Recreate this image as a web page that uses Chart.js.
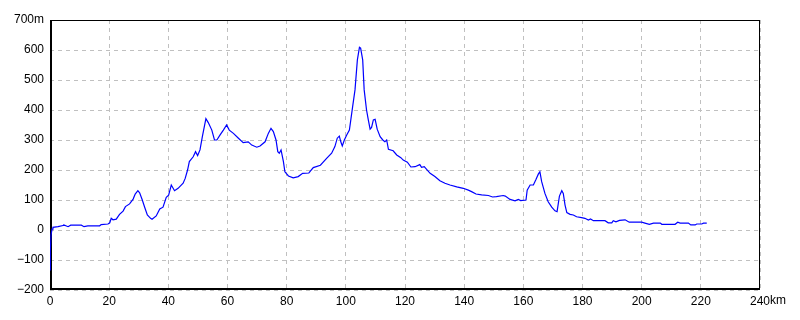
<!DOCTYPE html>
<html>
<head>
<meta charset="utf-8">
<script src="https://cdn.jsdelivr.net/npm/chart.js@4/dist/chart.umd.min.js"></script>
<style>
html,body{margin:0;padding:0;background:#fff;}
canvas{display:block;}
</style>
</head>
<body>
<canvas id="c" width="800" height="320"></canvas>
<script>
// distance along route (km)
const distanceKm = [0,0.1,0.34,0.7,1.0,2.7,4.4,4.7,6.1,7.0,10.6,11.5,12.8,16.8,17.3,19.6,20.2,20.7,21.3,22.4,23.5,24.7,25.5,26.9,28.1,28.8,29.7,30.3,31.2,32.0,32.9,34.0,34.5,35.9,37.1,38.2,39.3,40.1,41.0,42.1,43.3,45.0,45.7,46.5,47.1,48.4,49.2,49.9,50.7,51.5,52.7,53.5,54.7,55.6,56.4,57.5,58.6,59.7,60.6,62.0,63.7,65.3,67.0,68.2,69.9,71.0,72.7,73.8,74.7,75.5,76.4,77.0,77.5,78.1,78.9,79.4,80.6,82.2,83.9,85.4,87.5,89.0,91.4,93.5,95.2,96.3,97.1,97.8,98.3,98.8,99.5,100.3,101.2,101.6,102.3,103.1,103.9,104.6,105.0,105.7,106.2,107.0,107.6,108.2,108.7,109.3,109.9,110.6,111.6,112.5,113.2,113.8,114.4,116.0,117.2,118.6,119.4,120.8,122.0,123.4,125.0,125.6,126.5,128.5,130.1,131.8,133.5,135.2,137.5,139.7,141.4,142.5,144.0,145.9,148.2,149.6,150.9,153.2,153.9,155.5,157.2,158.3,159.1,160.9,161.3,162.3,163.4,164.3,165.1,165.6,166.2,167.3,168.4,169.6,170.7,171.4,172.2,173.0,173.5,174.1,174.7,175.8,176.9,178.0,179.7,180.8,182.0,182.7,183.7,187.6,188.7,189.9,190.4,191.3,192.5,194.4,195.8,200.0,201.1,202.6,204.0,206.3,206.8,211.3,212.2,213.0,215.8,216.6,218.1,218.6,220.3,220.9,222.0];
// elevation (m)
const elevationM = [-133,-72,-17,3,9,11,15,17,11,16,16,11,14,14,18,20,24,39,34,36,52,63,78,87,103,120,131,124,100,76,50,39,36,47,70,76,109,116,150,131,139,156,172,200,228,244,261,248,267,311,371,358,333,300,300,317,333,350,333,322,306,291,294,283,276,280,294,322,339,328,300,261,256,267,228,194,180,174,178,189,190,208,216,239,256,278,306,313,294,280,300,317,333,361,411,467,567,609,606,567,467,400,367,336,342,367,369,336,311,300,294,300,269,264,250,241,233,226,210,211,218,209,211,189,178,164,156,150,144,139,133,128,120,117,115,110,111,115,113,102,97,102,98,100,133,150,150,169,187,194,161,122,94,76,64,61,113,131,122,83,58,52,50,44,41,39,33,37,31,31,24,24,31,27,32,34,26,26,23,19,23,23,19,19,26,23,23,17,17,20,20,23,23];
// axis ticks
const xTicks = [0,20,40,60,80,100,120,140,160,180,200,220,240];
const yTicks = [-200,-100,0,100,200,300,400,500,600,700];

const points = distanceKm.map((k,i)=>({x:k,y:elevationM[i]}));
const FONT = {family:"'Liberation Sans Narrow','Liberation Sans',sans-serif", size:12};

const framePlugin = {
  id:'frame',
  beforeDatasetsDraw(chart){
    const {ctx, chartArea:a} = chart;
    ctx.save();
    ctx.strokeStyle = '#000';
    ctx.lineWidth = 1;
    ctx.strokeRect(Math.round(a.left)+0.5, Math.round(a.top)+0.5, Math.round(a.right-a.left)-1, Math.round(a.bottom-a.top)-1);
    ctx.lineWidth = 2;
    ctx.beginPath();
    ctx.moveTo(a.left+1, a.top);
    ctx.lineTo(a.left+1, a.bottom-1);
    ctx.lineTo(a.right, a.bottom-1);
    ctx.stroke();
    ctx.restore();
  },
  afterDraw(chart){
    const {ctx, chartArea:a} = chart;
    const xs = chart.scales.x;
    ctx.save();
    ctx.font = "12px " + FONT.family;
    ctx.fillStyle = '#000';
    ctx.textBaseline = 'top';
    ctx.textAlign = 'left';
    const last = xTicks[xTicks.length-1];
    const w = ctx.measureText(String(last)).width;
    ctx.fillText('km', xs.getPixelForValue(last) + w/2, a.bottom + 5);
    ctx.restore();
  }
};

new Chart(document.getElementById('c'), {
  type:'line',
  data:{datasets:[{data:points, borderColor:'#0000ff', borderWidth:1.2, pointRadius:0, tension:0, fill:false}]},
  options:{
    responsive:false,
    animation:false,
    events:[],
    layout:{padding:{top:20,right:40,left:0,bottom:0}},
    plugins:{legend:{display:false}, tooltip:{enabled:false}},
    scales:{
      x:{
        type:'linear', min:0, max:240,
        afterBuildTicks(s){ s.ticks = xTicks.map(v=>({value:v})); },
        afterFit(s){ s.height = 30; },
        grid:{color:'#c0c0c0', lineWidth:1, drawTicks:false, tickLength:0},
        border:{display:false, dash:[4,4]},
        ticks:{color:'#000', font:FONT, padding:4, maxRotation:0, autoSkip:false,
          callback:(v)=>String(v)}
      },
      y:{
        type:'linear', min:-200, max:700,
        afterBuildTicks(s){ s.ticks = yTicks.map(v=>({value:v})); },
        afterFit(s){ s.width = 50; },
        grid:{color:'#c0c0c0', lineWidth:1, drawTicks:false, tickLength:0},
        border:{display:false, dash:[4,4]},
        ticks:{color:'#000', font:FONT, padding:6, autoSkip:false,
          callback:(v)=> v===700 ? '700m' : (v<0 ? '\u2212'+Math.abs(v) : String(v))}
      }
    }
  },
  plugins:[framePlugin]
});
</script>
</body>
</html>
